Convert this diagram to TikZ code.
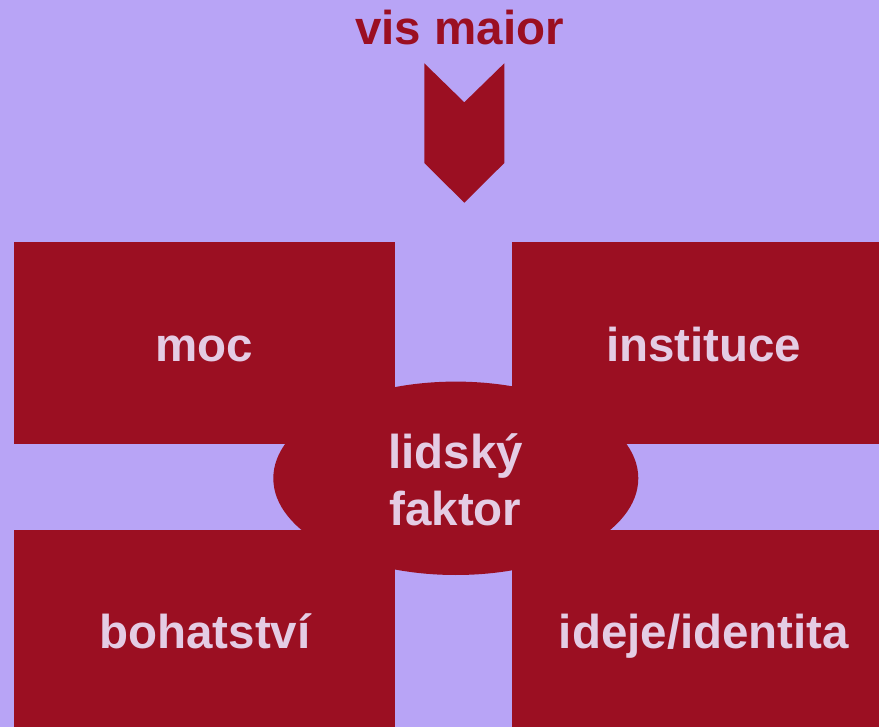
\documentclass[tikz,border=0pt]{standalone}
\usepackage{fontspec}
\setmainfont{Liberation Sans}
\usetikzlibrary{shapes.geometric}
\definecolor{bgc}{HTML}{B8A4F6}
\definecolor{redc}{HTML}{9B0F22}
\definecolor{txtc}{HTML}{E4CCE4}
\tikzset{
  box/.style={fill=redc, draw=none},
  lbl/.style={anchor=base, text=txtc, font=\fontsize{47.5}{57}\selectfont\bfseries, inner sep=0pt},
}
\begin{document}
\begin{tikzpicture}[x=1pt,y=-1pt]
\fill[bgc] (0,0) rectangle (879,727);
\useasboundingbox (0,0) rectangle (879,727);
% rectangles
\fill[box] (13.7,242.3) rectangle (395,444);
\fill[box] (512.3,242.3) rectangle (879,444);
\fill[box] (13.7,530) rectangle (395,727);
\fill[box] (512.3,530) rectangle (879,727);
% ellipse
\fill[box] (455.8,478.3) ellipse [x radius=182.5, y radius=96.7];
% chevron
\fill[redc] (424.3,63.3) -- (464.3,102.3) -- (504.3,63.3) -- (504.3,163) -- (464.3,202.7) -- (424.3,163) -- cycle;
% labels
\node[lbl, text=redc] (vis) at (459.5,45) {vis maior};
\node[lbl] (moc) at (204,361.7) {moc};
\node[lbl] (inst) at (703.7,361.7) {instituce};
\node[lbl] (boh) at (205,648.3) {bohatství};
\node[lbl] (idej) at (704,648.3) {ideje/identita};
\node[lbl] (lid) at (455.5,468) {lidský};
\node[lbl] (fak) at (455.5,525) {faktor};
\end{tikzpicture}
\end{document}
